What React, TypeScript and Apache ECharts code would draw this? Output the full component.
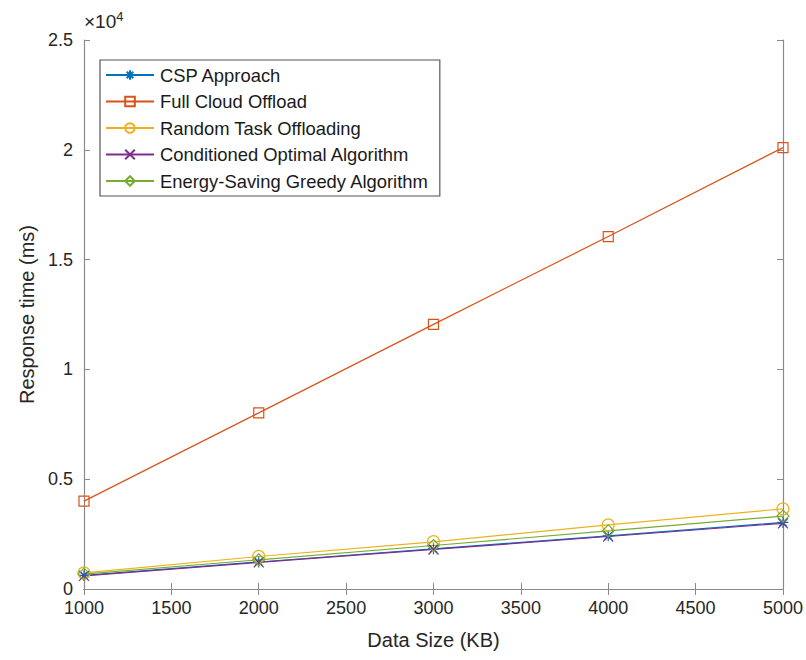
import React, { useEffect, useRef } from "react";
import * as echarts from "echarts";

const dataSizes = [1000, 2000, 3000, 4000, 5000];
const cspApproach = [620, 1230, 1830, 2420, 3030];
const fullCloud = [4000, 8020, 12050, 16050, 20100];
const randomTask = [730, 1480, 2150, 2920, 3650];
const conditionedOptimal = [600, 1210, 1800, 2390, 2990];
const energyGreedy = [680, 1330, 1980, 2650, 3320];
const seriesNames = [
  "CSP Approach",
  "Full Cloud Offload",
  "Random Task Offloading",
  "Conditioned Optimal Algorithm",
  "Energy-Saving Greedy Algorithm",
];

const STAR = "path://M5,0L5,10M0,5L10,5M1.6,1.6L8.4,8.4M8.4,1.6L1.6,8.4";
const CROSS = "path://M0,0L10,10M10,0L0,10";

export default function App() {
  const ref = useRef<HTMLDivElement>(null);
  useEffect(() => {
    const chart = echarts.init(ref.current!, null, { renderer: "svg" });
    const font = "Liberation Sans, Arial, sans-serif";
    const mk = (
      name: string,
      vals: number[],
      color: string,
      symbol: string,
      size: number
    ) => ({
      name,
      type: "line",
      data: dataSizes.map((x, i) => [x, vals[i]]),
      symbol,
      symbolSize: size,
      showSymbol: true,
      lineStyle: { color, width: 1.2 },
      itemStyle: {
        color: symbol.startsWith("path://") ? color : "none",
        borderColor: color,
        borderWidth: 1.2,
      },
      z: 3,
    });
    const axisGray = "#8a8a8a";
    const textColor = "#262626";
    chart.setOption({
      animation: false,
      backgroundColor: "#ffffff",
      grid: { left: 84, right: 21, top: 40, bottom: 71, containLabel: false },
      textStyle: { fontFamily: font },
      xAxis: [
        {
          type: "value",
          min: 1000,
          max: 5000,
          interval: 500,
          name: "Data Size (KB)",
          nameLocation: "middle",
          nameGap: 41,
          nameTextStyle: { fontSize: 20, color: textColor, fontFamily: font },
          axisLine: { lineStyle: { color: axisGray, width: 1.2 } },
          axisTick: { inside: true, length: 6, lineStyle: { color: axisGray } },
          axisLabel: {
            fontSize: 18,
            color: textColor,
            margin: 10,
            fontFamily: font,
            formatter: (v: number) => String(v),
          },
          splitLine: { show: false },
        },
        {
          type: "value",
          position: "top",
          min: 1000,
          max: 5000,
          interval: 500,
          axisLine: { show: true, lineStyle: { color: axisGray, width: 1.2 } },
          axisTick: { inside: true, length: 6, lineStyle: { color: axisGray } },
          axisLabel: { show: false },
          splitLine: { show: false },
        },
      ],
      yAxis: [
        {
          type: "value",
          min: 0,
          max: 25000,
          interval: 5000,
          name: "Response time (ms)",
          nameLocation: "middle",
          nameGap: 47,
          nameTextStyle: { fontSize: 20, color: textColor, fontFamily: font },
          axisLine: { show: true, lineStyle: { color: axisGray, width: 1.2 } },
          axisTick: { show: true, inside: true, length: 6, lineStyle: { color: axisGray } },
          axisLabel: {
            fontSize: 18,
            color: textColor,
            margin: 11,
            fontFamily: font,
            formatter: (v: number) => (v === 0 ? "0" : String(v / 10000)),
          },
          splitLine: { show: false },
        },
        {
          type: "value",
          position: "right",
          min: 0,
          max: 25000,
          interval: 5000,
          axisLine: { show: true, lineStyle: { color: axisGray, width: 1.2 } },
          axisTick: { show: true, inside: true, length: 6, lineStyle: { color: axisGray } },
          axisLabel: { show: false },
          splitLine: { show: false },
        },
      ],
      legend: {
        orient: "vertical",
        left: 100,
        top: 60,
        data: seriesNames,
        itemWidth: 48,
        itemHeight: 12,
        itemGap: 8.5,
        padding: [6, 11, 6, 5],
        borderColor: "#555555",
        borderWidth: 1.2,
        backgroundColor: "#ffffff",
        textStyle: { fontSize: 18.4, color: "#1a1a1a", fontFamily: font, padding: [0, 0, 0, 1] },
      },
      graphic: [
        {
          type: "text",
          left: 84,
          top: 10,
          style: {
            text: "×10{sup|4}",
            font: `19px ${font}`,
            fill: textColor,
            rich: { sup: { fontSize: 13, verticalAlign: "top", padding: [0, 0, 9, 0] } },
          },
        },
      ],
      series: [
        mk(seriesNames[0], cspApproach, "#0072BD", STAR, 11),
        mk(seriesNames[1], fullCloud, "#D95319", "rect", 10),
        mk(seriesNames[2], randomTask, "#EDB120", "circle", 12),
        mk(seriesNames[3], conditionedOptimal, "#7E2F8E", CROSS, 10),
        mk(seriesNames[4], energyGreedy, "#77AC30", "diamond", 12),
      ],
    });
    return () => chart.dispose();
  }, []);
  return (
    <div
      ref={ref}
      style={{ position: "absolute", left: 0, top: 0, width: 806, height: 660 }}
    />
  );
}
